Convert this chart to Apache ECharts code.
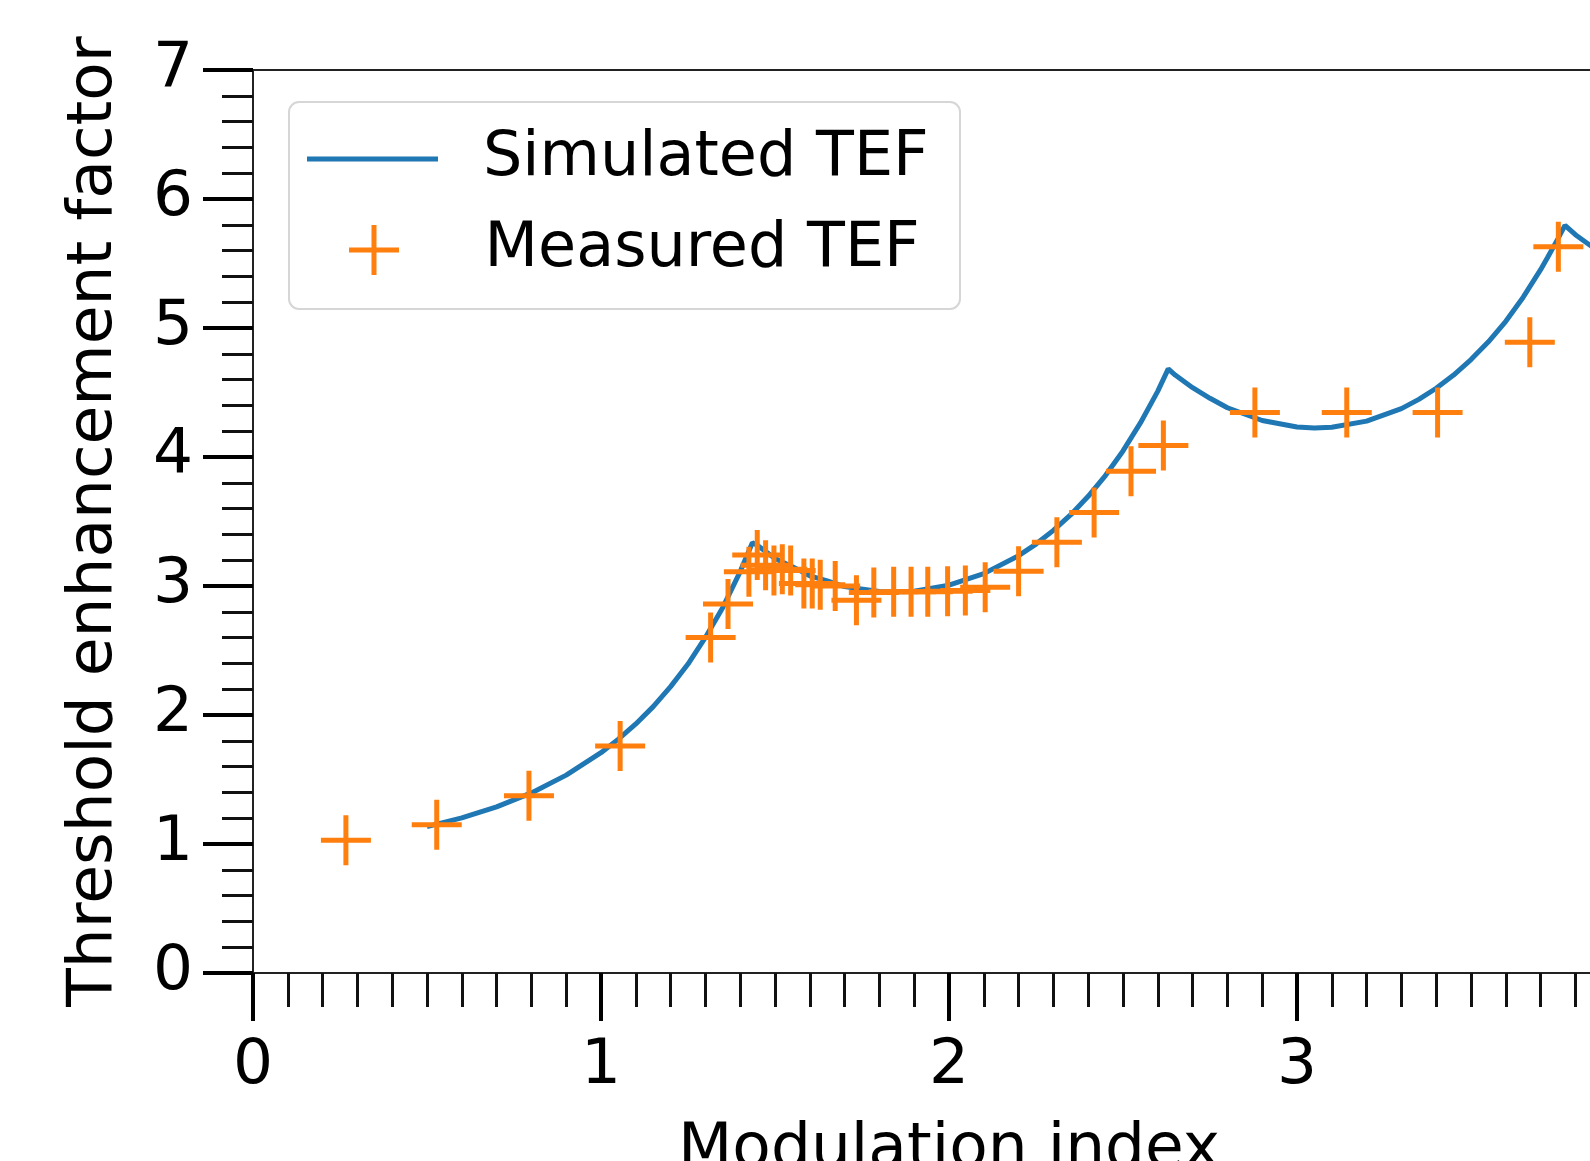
<!DOCTYPE html>
<html>
<head>
<meta charset="utf-8">
<script src="https://cdn.jsdelivr.net/npm/echarts@6/dist/echarts.min.js"></script>
<style>
  html, body { margin: 0; padding: 0; background: #fff; }
  #tefChart { width: 1590px; height: 1161px; }
</style>
</head>
<body>
<div id="tefChart"></div>
<script>
// simulated threshold enhancement factor
var simX = [0.5, 0.6, 0.7, 0.8, 0.9, 1.0, 1.05, 1.1, 1.15, 1.2, 1.25, 1.3, 1.35, 1.4, 1.435,
    1.45, 1.5, 1.55, 1.6, 1.65, 1.7, 1.8, 1.84, 1.9, 2.0, 2.1, 2.2, 2.25, 2.3, 2.35,
    2.4, 2.45, 2.5, 2.55, 2.6, 2.63, 2.65, 2.7, 2.75, 2.8, 2.9, 3.0, 3.05, 3.1, 3.2,
    3.3, 3.35, 3.4, 3.45, 3.5, 3.55, 3.6, 3.65, 3.7, 3.72, 3.75, 3.77, 3.8, 3.85, 3.9, 4.0];
var simY = [1.135, 1.202, 1.288, 1.396, 1.534, 1.708, 1.813, 1.931, 2.065, 2.220, 2.395, 2.601, 2.834, 3.112, 3.336,
    3.314, 3.213, 3.150, 3.079, 3.040, 2.995, 2.957, 2.953, 2.960, 3.007, 3.096, 3.235, 3.325, 3.431, 3.553,
    3.695, 3.858, 4.047, 4.264, 4.511, 4.683, 4.635, 4.537, 4.455, 4.382, 4.283, 4.232, 4.225, 4.230, 4.278,
    4.375, 4.447, 4.533, 4.635, 4.755, 4.893, 5.052, 5.239, 5.452, 5.547, 5.693, 5.795, 5.723, 5.626, 5.536, 5.403];

// measured points (orange crosses)
var measX = [0.267, 0.528, 0.793, 1.055, 1.315, 1.365, 1.425, 1.449, 1.473, 1.497, 1.521, 1.545,
    1.583, 1.607, 1.630, 1.673, 1.734, 1.784, 1.841, 1.891, 1.939, 1.996, 2.047, 2.104,
    2.200, 2.310, 2.417, 2.523, 2.616, 2.879, 3.143, 3.404, 3.669, 3.751];
var measY = [1.03, 1.15, 1.375, 1.76, 2.60, 2.86, 3.11, 3.24, 3.16, 3.12, 3.13, 3.12,
    3.02, 3.02, 3.01, 3.00, 2.89, 2.95, 2.955, 2.955, 2.955, 2.96, 2.965, 2.99,
    3.115, 3.34, 3.57, 3.89, 4.09, 4.345, 4.345, 4.345, 4.89, 5.63];

var seriesNames = ['Simulated TEF', 'Measured TEF'];
var xTitle = 'Modulation index';
var yTitle = 'Threshold enhancement factor';

var FONT = 'DejaVu Sans';
var plusPath = 'path://M0,45H100V55H0Z M45,0H55V100H45Z';

var simData = simX.map(function (x, i) { return [x, simY[i]]; });
var measData = measX.map(function (x, i) { return [x, measY[i]]; });

var legendText = { fontSize: 62, fontFamily: FONT, color: '#000', padding: [0, 0, 0, 40] };

var chart = echarts.init(document.getElementById('tefChart'));

var option = {
    backgroundColor: '#fff',
    animation: false,
    grid: {
        left: 253,
        top: 70,
        right: -55,
        bottom: 188,
        outerBoundsMode: 'none',
        containLabel: false,
        show: true,
        backgroundColor: 'transparent',
        borderColor: '#222',
        borderWidth: 2
    },
    legend: [
        {
            data: [{ name: seriesNames[0], icon: 'path://M0,0H131V5H0Z' }],
            left: 307, top: 128, padding: 0, z: 10,
            itemWidth: 131, itemHeight: 5,
            selectedMode: false,
            textStyle: legendText
        },
        {
            data: [seriesNames[1]],
            left: 349, top: 219, padding: 0, z: 10,
            itemWidth: 131, itemHeight: 50,
            selectedMode: false,
            textStyle: legendText
        }
    ],
    graphic: [
        {
            type: 'rect', left: 288, top: 101, z: 1,
            shape: { width: 671, height: 207, r: 10 },
            style: { fill: 'rgba(255,255,255,0.8)', stroke: '#d6d6d6', lineWidth: 2 }
        }
    ],
    xAxis: {
        type: 'value',
        min: 0, max: 4, interval: 1,
        name: xTitle,
        nameLocation: 'middle',
        nameGap: 146,
        nameTextStyle: { fontSize: 63, fontFamily: FONT, color: '#000' },
        axisLine: { lineStyle: { color: '#222', width: 2 } },
        axisTick: { show: true, length: 48, lineStyle: { color: '#000', width: 4 } },
        minorTick: { show: true, splitNumber: 10, length: 34, lineStyle: { color: '#111', width: 3 } },
        axisLabel: { fontSize: 63, fontFamily: FONT, color: '#000', margin: 62 },
        splitLine: { show: false }
    },
    yAxis: {
        type: 'value',
        min: 0, max: 7, interval: 1,
        name: yTitle,
        nameLocation: 'middle',
        nameGap: 127,
        nameTextStyle: { fontSize: 63, fontFamily: FONT, color: '#000' },
        axisLine: { show: true, lineStyle: { color: '#222', width: 2 } },
        axisTick: { show: true, length: 50, lineStyle: { color: '#000', width: 4 } },
        minorTick: { show: true, splitNumber: 5, length: 31, lineStyle: { color: '#111', width: 3 } },
        axisLabel: { fontSize: 63, fontFamily: FONT, color: '#000', margin: 60 },
        splitLine: { show: false }
    },
    series: [
        {
            name: seriesNames[0],
            type: 'line',
            data: simData,
            symbol: 'none',
            color: '#1f77b4',
            lineStyle: { color: '#1f77b4', width: 5 },
            z: 2
        },
        {
            name: seriesNames[1],
            type: 'scatter',
            data: measData,
            symbol: plusPath,
            symbolSize: 50,
            color: '#ff7f0e',
            itemStyle: { color: '#ff7f0e', opacity: 1 },
            z: 3
        }
    ]
};

chart.setOption(option);
</script>
</body>
</html>
